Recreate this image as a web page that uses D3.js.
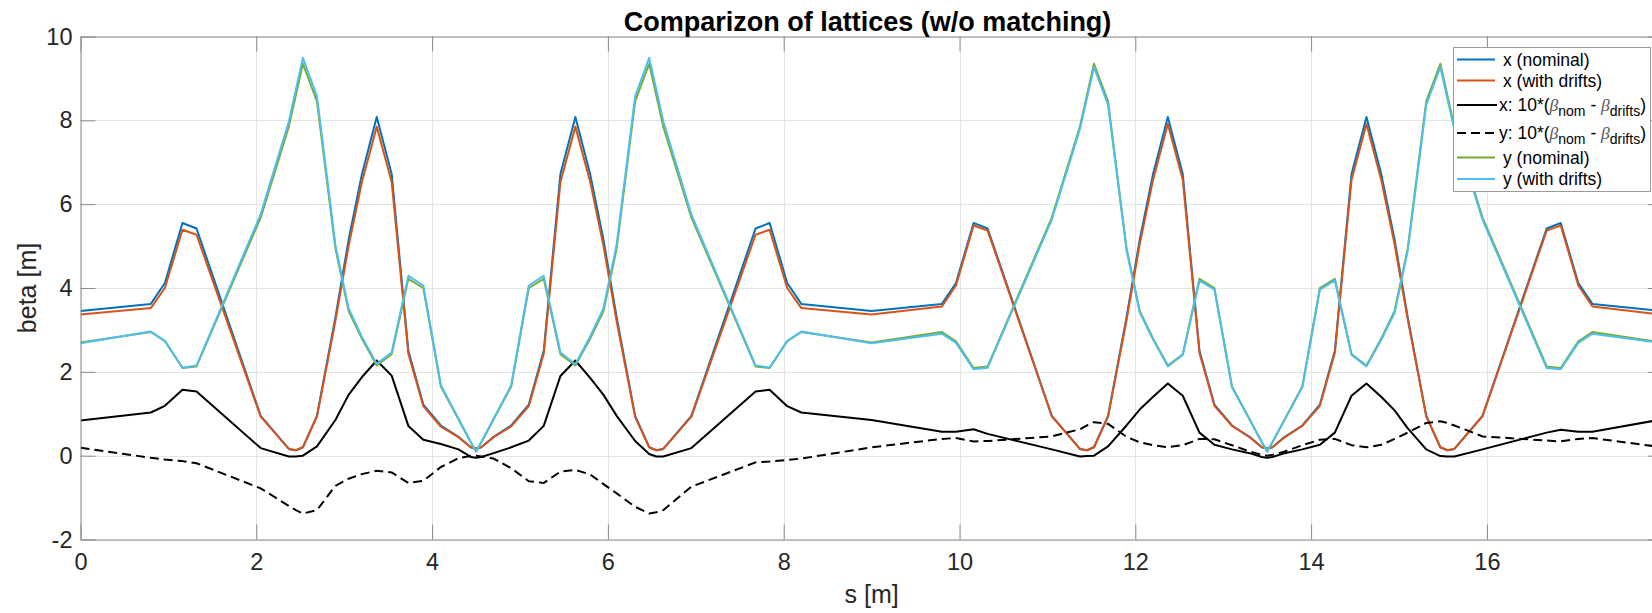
<!DOCTYPE html>
<html>
<head>
<meta charset="utf-8">
<script src="https://cdn.jsdelivr.net/npm/d3@7"></script>
<style>
  html, body { margin: 0; padding: 0; background: #fff; }
  svg { display: block; font-family: "Liberation Sans", Arial, Helvetica, sans-serif; }
</style>
</head>
<body>
<svg id="chart" width="1652" height="613"></svg>
<script>
// Longitudinal position of each lattice sample point [m]
const S = [0, 0.8, 0.96, 1.16, 1.32, 2.05, 2.37, 2.45, 2.53, 2.69, 2.9, 3.05, 3.2, 3.37, 3.54,
  3.73, 3.9, 4.1, 4.3, 4.44, 4.5, 4.56, 4.7, 4.9, 5.1, 5.27, 5.46, 5.63, 5.8, 5.95,
  6.1, 6.31, 6.47, 6.55, 6.63, 6.95, 7.68, 7.84, 8.04, 8.2, 9,
  9.8, 9.96, 10.16, 10.32, 11.05, 11.37, 11.45, 11.53, 11.69, 11.9, 12.05, 12.2, 12.37, 12.54,
  12.73, 12.9, 13.1, 13.3, 13.44, 13.5, 13.56, 13.7, 13.9, 14.1, 14.27, 14.46, 14.63, 14.8, 14.95,
  15.1, 15.31, 15.47, 15.55, 15.63, 15.95, 16.68, 16.84, 17.04, 17.2, 18];

// beta_x, nominal lattice
const xNominal = [3.45, 3.62, 4.12, 5.55, 5.42, 0.95, 0.16, 0.13, 0.2, 0.95, 3.3, 5.15, 6.7, 8.08, 6.72,
  2.5, 1.22, 0.72, 0.45, 0.2, 0.17, 0.2, 0.45, 0.72, 1.22, 2.5, 6.72, 8.08, 6.7, 5.15,
  3.3, 0.95, 0.2, 0.13, 0.16, 0.95, 5.42, 5.55, 4.12, 3.62, 3.45,
  3.62, 4.12, 5.55, 5.42, 0.95, 0.16, 0.13, 0.2, 0.95, 3.3, 5.15, 6.7, 8.08, 6.72,
  2.5, 1.22, 0.72, 0.45, 0.2, 0.17, 0.2, 0.45, 0.72, 1.22, 2.5, 6.72, 8.08, 6.7, 5.15,
  3.3, 0.95, 0.2, 0.13, 0.16, 0.95, 5.42, 5.55, 4.12, 3.62, 3.45];

// beta_x, lattice with drifts
const xDrifts = [3.37, 3.52, 4.0, 5.39, 5.27, 0.93, 0.16, 0.13, 0.2, 0.93, 3.22, 5.0, 6.51, 7.85, 6.53,
  2.43, 1.18, 0.69, 0.44, 0.2, 0.17, 0.2, 0.44, 0.7, 1.18, 2.43, 6.53, 7.85, 6.52, 5.0,
  3.2, 0.92, 0.2, 0.13, 0.16, 0.93, 5.27, 5.39, 4.0, 3.52, 3.37,
  3.56, 4.06, 5.49, 5.37, 0.94, 0.16, 0.13, 0.2, 0.93, 3.23, 5.04, 6.56, 7.91, 6.58,
  2.45, 1.19, 0.71, 0.44, 0.2, 0.17, 0.2, 0.44, 0.71, 1.19, 2.45, 6.58, 7.91, 6.56, 5.04,
  3.24, 0.94, 0.2, 0.13, 0.16, 0.94, 5.37, 5.49, 4.06, 3.56, 3.36];

// 10*(beta_nom - beta_drifts), horizontal plane
const xDiff = [0.84, 1.03, 1.19, 1.57, 1.53, 0.18, -0.02, -0.02, 0.0, 0.22, 0.85, 1.45, 1.87, 2.27, 1.91,
  0.71, 0.38, 0.28, 0.15, -0.03, -0.05, -0.03, 0.06, 0.2, 0.36, 0.71, 1.9, 2.27, 1.85, 1.45,
  0.95, 0.35, 0.04, -0.02, -0.02, 0.18, 1.53, 1.57, 1.18, 1.03, 0.85,
  0.57, 0.57, 0.63, 0.52, 0.15, -0.02, -0.01, 0.0, 0.22, 0.72, 1.1, 1.4, 1.72, 1.43,
  0.55, 0.26, 0.15, 0.06, -0.03, -0.05, -0.03, 0.06, 0.15, 0.26, 0.55, 1.43, 1.72, 1.4, 1.08,
  0.65, 0.15, -0.01, -0.02, -0.02, 0.15, 0.55, 0.62, 0.57, 0.57, 0.87];

// 10*(beta_nom - beta_drifts), vertical plane
const yDiff = [0.19, -0.05, -0.09, -0.13, -0.18, -0.78, -1.2, -1.3, -1.38, -1.3, -0.72, -0.55, -0.44, -0.36, -0.4,
  -0.65, -0.6, -0.27, -0.06, -0.01, 0.0, -0.02, -0.07, -0.3, -0.61, -0.65, -0.38, -0.34, -0.45, -0.68,
  -0.9, -1.22, -1.38, -1.35, -1.3, -0.74, -0.16, -0.14, -0.1, -0.07, 0.2,
  0.4, 0.42, 0.34, 0.35, 0.46, 0.63, 0.72, 0.8, 0.76, 0.45, 0.32, 0.25, 0.2, 0.25,
  0.4, 0.39, 0.25, 0.1, 0.02, 0.0, 0.02, 0.1, 0.25, 0.38, 0.4, 0.25, 0.2, 0.26, 0.4,
  0.55, 0.78, 0.82, 0.78, 0.72, 0.46, 0.36, 0.34, 0.4, 0.42, 0.2];

// beta_y, nominal lattice
const yNominal = [2.7, 2.95, 2.73, 2.09, 2.13, 5.68, 7.85, 8.6, 9.35, 8.45, 4.95, 3.45, 2.8, 2.15, 2.42,
  4.22, 4.0, 1.65, 0.87, 0.32, 0.1, 0.32, 0.87, 1.65, 4.0, 4.22, 2.42, 2.15, 2.8, 3.45,
  4.95, 8.45, 9.35, 8.6, 7.85, 5.68, 2.13, 2.09, 2.73, 2.95, 2.7,
  2.95, 2.73, 2.09, 2.13, 5.68, 7.85, 8.6, 9.35, 8.45, 4.95, 3.45, 2.8, 2.15, 2.42,
  4.22, 4.0, 1.65, 0.87, 0.32, 0.1, 0.32, 0.87, 1.65, 4.0, 4.22, 2.42, 2.15, 2.8, 3.45,
  4.95, 8.45, 9.35, 8.6, 7.85, 5.68, 2.13, 2.09, 2.73, 2.95, 2.7];

// beta_y, lattice with drifts
const yDrifts = [2.68, 2.96, 2.74, 2.1, 2.15, 5.76, 7.97, 8.73, 9.49, 8.58, 5.02, 3.51, 2.84, 2.19, 2.46,
  4.29, 4.06, 1.68, 0.88, 0.32, 0.1, 0.32, 0.88, 1.68, 4.06, 4.29, 2.46, 2.18, 2.85, 3.52,
  5.04, 8.57, 9.49, 8.74, 7.98, 5.75, 2.15, 2.1, 2.74, 2.96, 2.68,
  2.91, 2.69, 2.06, 2.1, 5.63, 7.79, 8.53, 9.27, 8.37, 4.91, 3.42, 2.78, 2.13, 2.4,
  4.18, 3.96, 1.63, 0.86, 0.32, 0.1, 0.32, 0.86, 1.63, 3.96, 4.18, 2.4, 2.13, 2.77, 3.41,
  4.9, 8.37, 9.27, 8.52, 7.78, 5.63, 2.09, 2.06, 2.69, 2.91, 2.68];

const xTicks = [0, 2, 4, 6, 8, 10, 12, 14, 16, 18];
const xTickLabels = ["0", "2", "4", "6", "8", "10", "12", "14", "16", ""];
const yTicks = [-2, 0, 2, 4, 6, 8, 10];
const yTickLabels = ["-2", "0", "2", "4", "6", "8", "10"];

// ---------------------------------------------------------------------------
const svg = d3.select("#chart");
const box = { left: 80.5, right: 1662.7, top: 36.5, bottom: 539.5 };
const tickLen = 15;

const x = d3.scaleLinear().domain([0, 18]).range([box.left, box.right]);
const y = d3.scaleLinear().domain([-2, 10]).range([box.bottom, box.top]);

svg.append("rect").attr("width", 1652).attr("height", 613).attr("fill", "#fff");

// grid
const grid = svg.append("g").attr("stroke", "#e4e4e4").attr("stroke-width", 1);
grid.selectAll("line.gx").data(xTicks).join("line")
  .attr("x1", d => Math.round(x(d)) + 0.5).attr("x2", d => Math.round(x(d)) + 0.5)
  .attr("y1", box.top).attr("y2", box.bottom);
grid.selectAll("line.gy").data(yTicks).join("line")
  .attr("y1", d => Math.round(y(d)) + 0.5).attr("y2", d => Math.round(y(d)) + 0.5)
  .attr("x1", box.left).attr("x2", box.right);

// data lines
svg.append("clipPath").attr("id", "plotclip").append("rect")
  .attr("x", box.left).attr("y", box.top)
  .attr("width", box.right - box.left).attr("height", box.bottom - box.top);

const series = [
  { name: "x (nominal)", values: xNominal, color: "#0072BD", dash: null },
  { name: "x (with drifts)", values: xDrifts, color: "#D95319", dash: null },
  { name: "x diff", values: xDiff, color: "#000000", dash: null },
  { name: "y diff", values: yDiff, color: "#000000", dash: "9,5" },
  { name: "y (nominal)", values: yNominal, color: "#77AC30", dash: null },
  { name: "y (with drifts)", values: yDrifts, color: "#4DBEEE", dash: null }
];

const line = d3.line().x(d => x(d[0])).y(d => y(d[1]));
const plot = svg.append("g").attr("clip-path", "url(#plotclip)");
series.forEach(sr => {
  plot.append("path")
    .datum(S.map((s, i) => [s, sr.values[i]]))
    .attr("fill", "none")
    .attr("stroke", sr.color)
    .attr("stroke-width", 2)
    .attr("stroke-linejoin", "round")
    .attr("stroke-dasharray", sr.dash)
    .attr("d", line);
});

// axes (ticks pointing inward, box on)
function styleAxis(g, showText) {
  g.select(".domain").attr("stroke", "#8a8a8a").attr("stroke-width", 1);
  g.selectAll(".tick line").attr("stroke", "#8a8a8a").attr("stroke-width", 1);
  g.selectAll(".tick text").attr("fill", "#262626").attr("font-size", 23.5)
    .attr("font-family", '"Liberation Sans", Arial, Helvetica, sans-serif');
  if (!showText) g.selectAll(".tick text").remove();
}
const fmtX = d => xTickLabels[xTicks.indexOf(d)];
const fmtY = d => yTickLabels[yTicks.indexOf(d)];

svg.append("g").attr("transform", `translate(0,${box.bottom})`)
  .call(d3.axisBottom(x).tickValues(xTicks).tickFormat(fmtX).tickSizeInner(-tickLen).tickSizeOuter(0).tickPadding(13.5))
  .call(g => styleAxis(g, true));
svg.append("g").attr("transform", `translate(0,${box.top})`)
  .call(d3.axisTop(x).tickValues(xTicks).tickSizeInner(-tickLen).tickSizeOuter(0))
  .call(g => styleAxis(g, false));
svg.append("g").attr("transform", `translate(${box.left},0)`)
  .call(d3.axisLeft(y).tickValues(yTicks).tickFormat(fmtY).tickSizeInner(-tickLen).tickSizeOuter(0).tickPadding(8))
  .call(g => styleAxis(g, true));
svg.append("g").attr("transform", `translate(${box.right},0)`)
  .call(d3.axisRight(y).tickValues(yTicks).tickSizeInner(-tickLen).tickSizeOuter(0))
  .call(g => styleAxis(g, false));

// labels and title
const cx = (box.left + box.right) / 2;
svg.append("text").attr("x", cx - 4).attr("y", 30.5).attr("text-anchor", "middle")
  .attr("font-size", 27).attr("font-weight", "bold").attr("fill", "#000")
  .text("Comparizon of lattices (w/o matching)");
svg.append("text").attr("x", cx).attr("y", 603).attr("text-anchor", "middle")
  .attr("font-size", 25).attr("fill", "#262626").text("s [m]");
svg.append("text")
  .attr("transform", `translate(36,${(box.top + box.bottom) / 2}) rotate(-90)`)
  .attr("text-anchor", "middle").attr("font-size", 25).attr("fill", "#262626")
  .text("beta [m]");

// legend
const lg = svg.append("g");
lg.append("rect").attr("x", 1453.5).attr("y", 47.5).attr("width", 197).attr("height", 144)
  .attr("fill", "#fff").attr("stroke", "#9a9a9a").attr("stroke-width", 1);

const rows = [
  { lineY: 59.5, textY: 65.5, x0: 1457, x1: 1495, tx: 1503 },
  { lineY: 80.5, textY: 86.5, x0: 1457, x1: 1495, tx: 1503 },
  { lineY: 105, textY: 110.5, x0: 1457, x1: 1497, tx: 1499 },
  { lineY: 133, textY: 138.5, x0: 1457, x1: 1497, tx: 1499 },
  { lineY: 157.5, textY: 163.5, x0: 1457, x1: 1495, tx: 1503 },
  { lineY: 179, textY: 185, x0: 1457, x1: 1495, tx: 1503 }
];

series.forEach((sr, i) => {
  const r = rows[i];
  lg.append("line").attr("x1", r.x0).attr("x2", r.x1).attr("y1", r.lineY).attr("y2", r.lineY)
    .attr("stroke", sr.color).attr("stroke-width", 2).attr("stroke-dasharray", sr.dash);
  const t = lg.append("text").attr("x", r.tx).attr("y", r.textY).attr("font-size", 17.5).attr("fill", "#000");
  if (i === 2 || i === 3) {
    const plane = i === 2 ? "x" : "y";
    t.append("tspan").text(plane + ": 10*(");
    t.append("tspan").attr("font-style", "italic").attr("fill", "#555")
      .attr("font-family", '"Liberation Serif", "DejaVu Serif", serif').text("\u03B2");
    t.append("tspan").attr("font-size", 14).attr("dy", 5).text("nom");
    t.append("tspan").attr("dy", -5).text(" - ");
    t.append("tspan").attr("font-style", "italic").attr("fill", "#555")
      .attr("font-family", '"Liberation Serif", "DejaVu Serif", serif').text("\u03B2");
    t.append("tspan").attr("font-size", 14).attr("dy", 5).text("drifts");
    t.append("tspan").attr("dy", -5).text(")");
  } else {
    t.text(sr.name);
  }
});
</script>
</body>
</html>
